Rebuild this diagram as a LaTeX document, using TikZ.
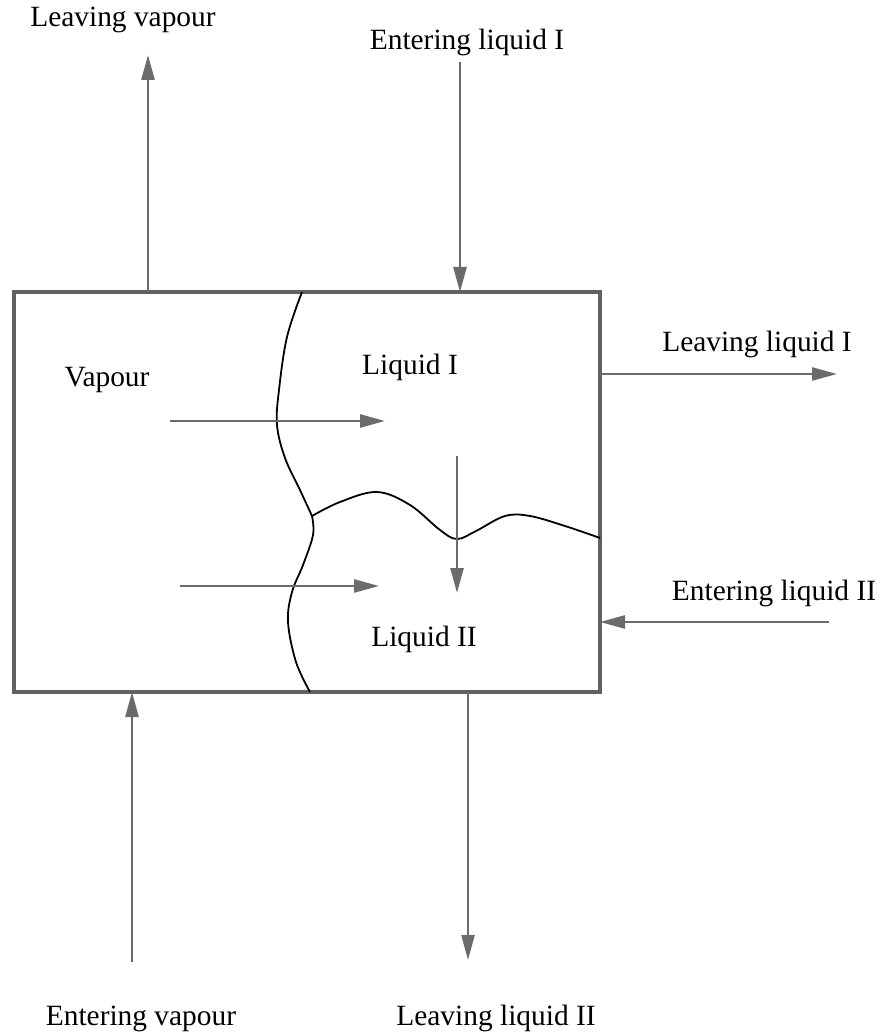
\documentclass[tikz,border=0pt]{standalone}
\usepackage{fontspec}
\setmainfont{Liberation Serif}
\usetikzlibrary{arrows.meta}
\definecolor{flowgray}{gray}{0.42}
\definecolor{wallgray}{gray}{0.38}
\begin{document}
\begin{tikzpicture}[x=0.5pt,y=-0.5pt,
  lbl/.style={anchor=base, inner sep=0pt, font=\fontsize{14.7}{17}\selectfont},
  flow/.style={draw=flowgray, line width=1.3pt, -{Triangle[length=12.5pt,width=6.5pt,fill=flowgray]}},
  wall/.style={draw=wallgray, line width=2.2pt, line join=miter},
  iface/.style={draw=black, line width=0.9pt}]
\useasboundingbox (0,0) rectangle (885,1036);
% vessel
\coordinate (tl) at (14,292);
\coordinate (br) at (600,692);
\draw[wall] (tl) rectangle (br);
% connector end points
\coordinate (lvB) at (148,292);  \coordinate (lvT) at (148,55);
\coordinate (eliT) at (460,62);  \coordinate (eliB) at (460,292);
\coordinate (lliL) at (600,374); \coordinate (lliR) at (837,374);
\coordinate (eliiR) at (829,622); \coordinate (eliiL) at (600,622);
\coordinate (evB) at (132,962);  \coordinate (evT) at (132,692);
\coordinate (lliiT) at (468,692); \coordinate (lliiB) at (468,960);
\coordinate (va1) at (170,421);  \coordinate (va2) at (385,421);
\coordinate (vb1) at (180,586);  \coordinate (vb2) at (379,586);
\coordinate (ld1) at (457,456);  \coordinate (ld2) at (457,593);
% interfaces
\coordinate (jn) at (312,516);
\draw[iface] plot[smooth, tension=0.6] coordinates {(302,292) (287,337) (279,390) (277,425) (285,458) (300,490) (jn)};
\draw[iface] plot[smooth, tension=0.6] coordinates {(jn) (313,535) (303,565) (292,592) (288,622) (296,662) (310,692)};
\draw[iface] plot[smooth, tension=0.6] coordinates {(jn) (340,502) (377,492) (410,505) (440,530) (457,539) (476,531) (505,516) (530,516) (565,526) (600,538)};
% flows
\draw[flow] (lvB) -- (lvT);
\draw[flow] (eliT) -- (eliB);
\draw[flow] (lliL) -- (lliR);
\draw[flow] (eliiR) -- (eliiL);
\draw[flow] (evB) -- (evT);
\draw[flow] (lliiT) -- (lliiB);
\draw[flow] (va1) -- (va2);
\draw[flow] (vb1) -- (vb2);
\draw[flow] (ld1) -- (ld2);
% labels
\node[lbl] (tLV) at (123,27) {Leaving vapour};
\node[lbl] (tELI) at (467,50) {Entering liquid I};
\node[lbl] (tV) at (107,387) {Vapour};
\node[lbl] (tLI) at (410,375) {Liquid I};
\node[lbl] (tLLI) at (757,352) {Leaving liquid I};
\node[lbl] (tELII) at (774,600) {Entering liquid II};
\node[lbl] (tLII) at (424,646) {Liquid II};
\node[lbl] (tEV) at (141,1025) {Entering vapour};
\node[lbl] (tLLII) at (496,1025) {Leaving liquid II};
\end{tikzpicture}
\end{document}
